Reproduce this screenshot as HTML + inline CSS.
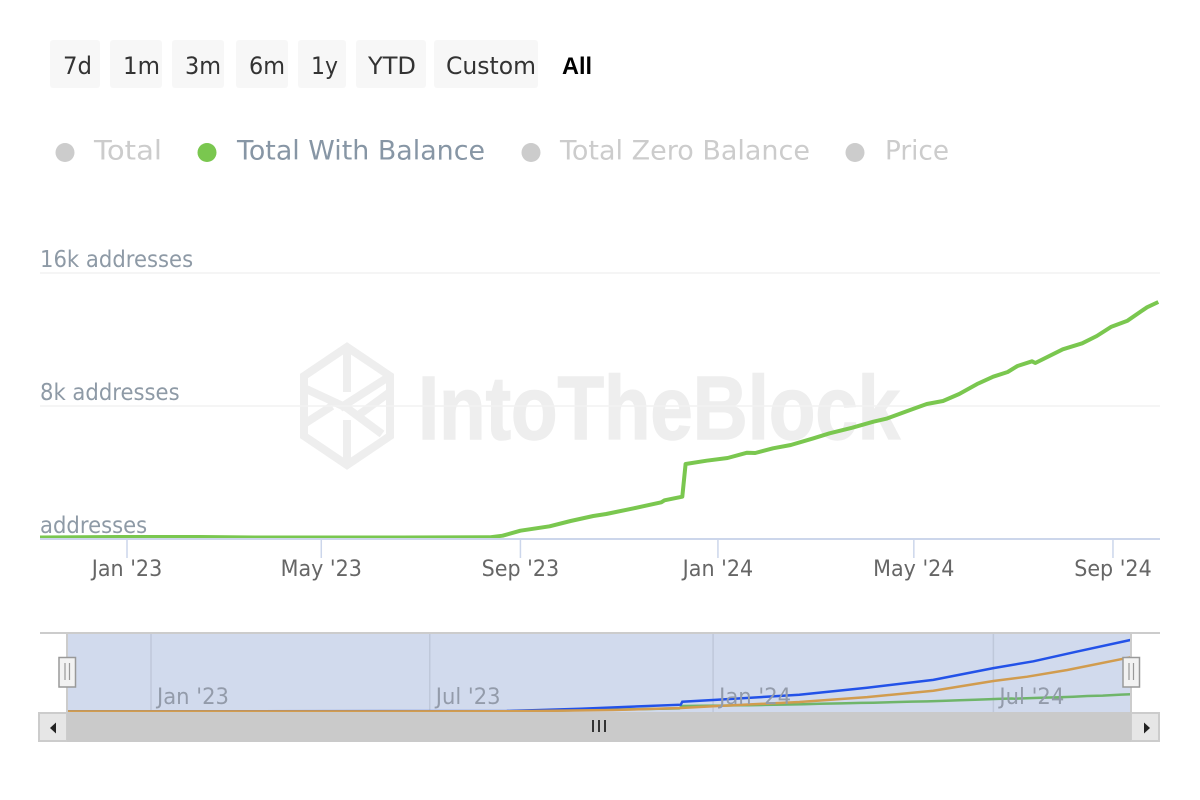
<!DOCTYPE html>
<html lang="en">
<head>
<meta charset="utf-8">
<title>Addresses chart</title>
<style>
html,body{margin:0;padding:0;background:#fff;width:1200px;height:800px;overflow:hidden}
svg{display:block}
text{font-family:"DejaVu Sans","Liberation Sans",sans-serif}
.btn-t{font-size:24px;fill:#333}
.leg-t{font-size:27px;fill:#ccc}
.y-t{font-size:23px;fill:#8e9aa6}
</style>
</head>
<body>
<svg id="chart" xmlns="http://www.w3.org/2000/svg" width="1200" height="800" viewBox="0 0 1200 800">
  <defs>
    <clipPath id="main-clip"><rect x="40" y="240" width="1120" height="300"/></clipPath>
    <clipPath id="nav-clip"><rect x="67" y="634" width="1064" height="78"/></clipPath>
  </defs>
  <rect width="1200" height="800" fill="#fff"/>

  <g>
    <g><rect x="50" y="40" width="50" height="48" rx="3" fill="#f7f7f7"/><text class="btn-t" x="63" y="74" textLength="29" lengthAdjust="spacingAndGlyphs">7d</text></g>
    <g><rect x="110" y="40" width="52" height="48" rx="3" fill="#f7f7f7"/><text class="btn-t" x="123" y="74" textLength="37" lengthAdjust="spacingAndGlyphs">1m</text></g>
    <g><rect x="172" y="40" width="52" height="48" rx="3" fill="#f7f7f7"/><text class="btn-t" x="185" y="74" textLength="36" lengthAdjust="spacingAndGlyphs">3m</text></g>
    <g><rect x="236" y="40" width="52" height="48" rx="3" fill="#f7f7f7"/><text class="btn-t" x="249" y="74" textLength="36" lengthAdjust="spacingAndGlyphs">6m</text></g>
    <g><rect x="298" y="40" width="48" height="48" rx="3" fill="#f7f7f7"/><text class="btn-t" x="311" y="74" textLength="27" lengthAdjust="spacingAndGlyphs">1y</text></g>
    <g><rect x="356" y="40" width="70" height="48" rx="3" fill="#f7f7f7"/><text class="btn-t" x="368" y="74" textLength="48" lengthAdjust="spacingAndGlyphs">YTD</text></g>
    <g><rect x="434" y="40" width="104" height="48" rx="3" fill="#f7f7f7"/><text class="btn-t" x="446" y="74" textLength="90" lengthAdjust="spacingAndGlyphs">Custom</text></g>
    <g><text class="btn-t" x="562" y="74" textLength="30" lengthAdjust="spacingAndGlyphs" style="fill:#000;font-weight:bold;font-family:'Liberation Sans',sans-serif">All</text></g>
  </g>

  <g>
    <g><circle cx="65" cy="152.500" r="9.500" fill="#ccc"/><text class="leg-t" x="94" y="159.500" textLength="68" lengthAdjust="spacingAndGlyphs">Total</text></g>
    <g><circle cx="207" cy="152.500" r="9.500" fill="#7ac74f"/><text class="leg-t" x="237" y="159.500" textLength="248" lengthAdjust="spacingAndGlyphs" style="fill:#8796a5">Total With Balance</text></g>
    <g><circle cx="531" cy="152.500" r="9.500" fill="#ccc"/><text class="leg-t" x="560" y="159.500" textLength="250" lengthAdjust="spacingAndGlyphs">Total Zero Balance</text></g>
    <g><circle cx="855" cy="152.500" r="9.500" fill="#ccc"/><text class="leg-t" x="885" y="159.500" textLength="64" lengthAdjust="spacingAndGlyphs">Price</text></g>
  </g>

  <g fill="none" stroke="#eeeeee" stroke-width="8">
    <path d="M347 347 L390 376 L390 436 L347 465 L304 436 L304 376 Z M304 388 L347 408 L382 434 M304 424 L332 406 M347 347 L347 392 M347 465 L347 420 M390 376 L340 408 M390 392 L360 414"/>
    <text x="418" y="439" textLength="482" lengthAdjust="spacingAndGlyphs" stroke="#eeeeee" stroke-width="1.500" fill="#eeeeee" style="font-family:'Liberation Sans',sans-serif;font-weight:bold;font-size:90px">IntoTheBlock</text>
  </g>

  <g id="y-axis"></g>
  <g id="main-series" clip-path="url(#main-clip)"></g>
  <g id="x-axis"></g>

  <g id="navigator">
    <rect x="67" y="634" width="1064" height="78" fill="#d1daed"/>
    <g id="nav-grid"></g>
    <g id="nav-series" clip-path="url(#nav-clip)"></g>
    <rect x="40" y="632" width="1120" height="2" fill="#cccccc"/>
    <rect x="66" y="634" width="2" height="78" fill="#cccccc"/>
    <rect x="1130" y="634" width="2" height="78" fill="#cccccc"/>
    <g>
      <rect x="59" y="657.5" width="16.5" height="29.5" fill="#f2f2f2" stroke="#999" stroke-width="1.5"/>
      <path d="M65 663V680M69.5 663V680" stroke="#999" stroke-width="1.2" fill="none"/>
    </g>
    <g>
      <rect x="1123" y="657.5" width="16.5" height="29.5" fill="#f2f2f2" stroke="#999" stroke-width="1.5"/>
      <path d="M1129 663V680M1133.500 663V680" stroke="#999" stroke-width="1.2" fill="none"/>
    </g>
  </g>

  <g>
    <rect x="38" y="712" width="1122" height="30" fill="#cccccc"/>
    <rect x="67" y="712" width="1064" height="30" fill="#cacaca"/>
    <path d="M593 720V732M599 720V732M605 720V732" stroke="#333" stroke-width="2" fill="none"/>
    <g><rect x="40" y="714" width="26" height="26" fill="#e6e6e6"/><path d="M50 728L56 722.500V733.500Z" fill="#222"/></g>
    <g><rect x="1132" y="714" width="26" height="26" fill="#e6e6e6"/><path d="M1150 728L1144 722.500V733.500Z" fill="#222"/></g>
  </g>
</svg>

<script>
// Days since 2023-01-01 and the visible "Total With Balance" readings.
var balanceDays = [-54,-4,45,82,169,224,232,243,261,274,288,296,313,330,332,343,345,358,371,383,388,399,410,424,434,448,461,469,485,494,504,514,525,535,544,550,559,561,578,590,599,608,618,630,637];
var balanceValues = [90,120,120,90,90,100,200,500,765,1083,1385,1505,1845,2205,2330,2545,4510,4710,4870,5190,5170,5455,5655,6055,6360,6695,7055,7235,7800,8120,8300,8720,9320,9760,10045,10405,10690,10585,11410,11770,12210,12770,13130,13935,14255];

// Navigator-only series, in addresses.
var totalDays = [-54,231,279,344,345,365,421,465,508,547,573,601,636];
var totalValues = [100,400,2300,5600,8100,9500,13800,19600,26000,35800,41400,49300,58900];
var zeroDays = [-54,235,300,344,365,421,465,508,547,569,595,636];
var zeroValues = [50,200,1200,2900,4300,7800,11900,17100,25100,28700,34200,44700];

// Axis ticks.
var yTickValues = [0,8000,16000];
var yTickLabels = ['addresses','8k addresses','16k addresses'];
var xTickDays = [0,120,243,365,486,609];
var xTickLabels = ["Jan '23","May '23","Sep '23","Jan '24","May '24","Sep '24"];
var navTickDays = [0,181,365,547];
var navTickLabels = ["Jan '23","Jul '23","Jan '24","Jul '24"];

var NS = 'http://www.w3.org/2000/svg';
function make(parent, tag, attrs, txt) {
  var el = document.createElementNS(NS, tag);
  for (var k in attrs) el.setAttribute(k, attrs[k]);
  if (txt !== undefined) el.textContent = txt;
  parent.appendChild(el);
  return el;
}
function xMain(d) { return 127 + d * 1.619; }
function yMain(v) { return 539 - v * 266 / 16000; }
function xNav(d) { return 151 + d * 1.54; }
function yNav(v) { return 711.5 - v / 824; }
function pathFrom(days, vals, fx, fy) {
  var s = '';
  for (var i = 0; i < days.length; i++) {
    s += (i ? 'L' : 'M') + fx(days[i]).toFixed(1) + ' ' + fy(vals[i]).toFixed(1);
  }
  return s;
}
function squeeze(el, factor) {
  var w = el.getComputedTextLength();
  el.setAttribute('textLength', (w * factor).toFixed(1));
  el.setAttribute('lengthAdjust', 'spacingAndGlyphs');
}

var yAxis = document.getElementById('y-axis');
yTickValues.forEach(function (v, i) {
  var y = yMain(v);
  if (v > 0) {
    var grid = make(yAxis, 'line', {x1: 40, x2: 1160, y1: y, y2: y, stroke: '#f2f2f2', 'stroke-width': 1.5});
    
    
  }
  var lab = make(yAxis, 'text', {x: 40, y: y - 6, 'class': 'y-t'}, yTickLabels[i]);
  
  
  squeeze(lab, 0.92);
});

var xAxis = document.getElementById('x-axis');
var axisLine = make(xAxis, 'line', {x1: 40, x2: 1160, y1: 539, y2: 539, stroke: '#ccd6eb', 'stroke-width': 2});


xTickDays.forEach(function (d, i) {
  var x = xMain(d);
  var tick = make(xAxis, 'line', {x1: x, x2: x, y1: 539, y2: 558, stroke: '#ccd6eb', 'stroke-width': 1.5});
  
  
  var lab = make(xAxis, 'text', {x: x, y: 576, 'text-anchor': 'middle', 'font-size': 22, fill: '#666666'}, xTickLabels[i]);
  
  
  squeeze(lab, 0.94);
});

var mainLine = make(document.getElementById('main-series'), 'path', {
  d: pathFrom(balanceDays, balanceValues, xMain, yMain),
  fill: 'none', stroke: '#7ac74f', 'stroke-width': 4, 'stroke-linejoin': 'round'
});



var navGrid = document.getElementById('nav-grid');
navTickDays.forEach(function (d) {
  var x = xNav(d);
  var g = make(navGrid, 'line', {x1: x, x2: x, y1: 634, y2: 712, stroke: '#bfc8da', 'stroke-width': 1.5});
  
  
});

var navSeries = document.getElementById('nav-series');
var greenNav = make(navSeries, 'path', {d: pathFrom(balanceDays, balanceValues, xNav, yNav), fill: 'none', stroke: '#6fb56a', 'stroke-width': 2.5});


var blueNav = make(navSeries, 'path', {d: pathFrom(totalDays, totalValues, xNav, yNav), fill: 'none', stroke: '#2352e8', 'stroke-width': 2.5});


var orangeNav = make(navSeries, 'path', {d: pathFrom(zeroDays, zeroValues, xNav, yNav), fill: 'none', stroke: '#d19c4f', 'stroke-width': 2.5});



navTickDays.forEach(function (d, i) {
  var lab = make(navGrid.parentNode, 'text', {x: xNav(d) + 6, y: 704, 'font-size': 22, fill: '#939baa'}, navTickLabels[i]);
  
  
  squeeze(lab, 0.96);
});
</script>
</body>
</html>
